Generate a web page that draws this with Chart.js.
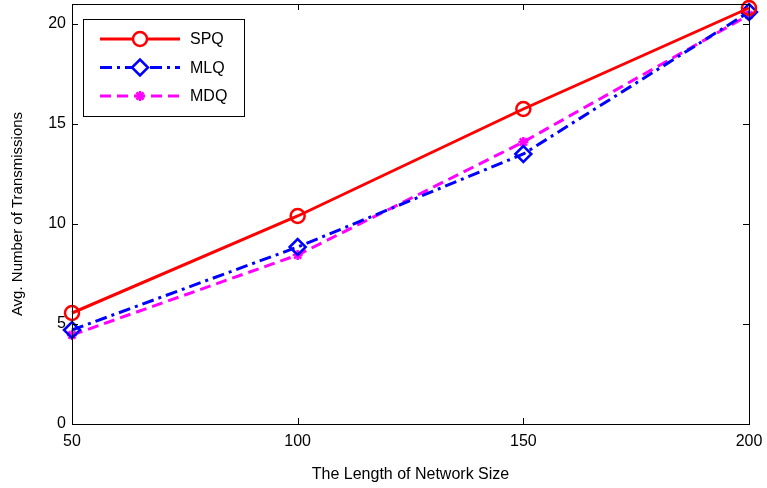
<!DOCTYPE html>
<html>
<head>
<meta charset="utf-8">
<script src="https://cdn.jsdelivr.net/npm/chart.js@4.4.0/dist/chart.umd.min.js"></script>
<style>
  html, body { margin: 0; padding: 0; background: #fff; }
  #wrap { width: 767px; height: 488px; position: relative; }
</style>
</head>
<body>
<div id="wrap"><canvas id="chart"></canvas></div>
<script>
const networkSizes = [50, 100, 150, 200];
const spqValues = [5.55, 10.4, 15.75, 20.8];
const mlqValues = [4.7, 8.85, 13.5, 20.6];
const mdqValues = [4.45, 8.45, 14.1, 20.45];
const yTicks = [0, 5, 10, 15, 20];
const xTicks = [50, 100, 150, 200];

const FONT = "Arial, 'Liberation Sans', sans-serif";

function toPoints(values) {
  return networkSizes.map((x, i) => ({ x, y: values[i] }));
}

// MATLAB-like box: border on all sides with ticks pointing inward
const boxPlugin = {
  id: "box",
  afterDraw(chart) {
    const { ctx, chartArea: a, scales } = chart;
    ctx.save();
    ctx.strokeStyle = "#000";
    ctx.lineWidth = 1;
    ctx.strokeRect(a.left + 0.5, a.top + 0.5, a.right - a.left, a.bottom - a.top);
    const len = 6;
    ctx.beginPath();
    yTicks.forEach((v) => {
      const y = Math.round(scales.y.getPixelForValue(v)) + 0.5;
      ctx.moveTo(a.left, y); ctx.lineTo(a.left + len, y);
      ctx.moveTo(a.right, y); ctx.lineTo(a.right - len, y);
    });
    xTicks.forEach((v) => {
      const x = Math.round(scales.x.getPixelForValue(v)) + 0.5;
      ctx.moveTo(x, a.bottom); ctx.lineTo(x, a.bottom - len);
      ctx.moveTo(x, a.top); ctx.lineTo(x, a.top + len);
    });
    ctx.stroke();
    ctx.restore();
  },
};

// legend box in the upper-left corner of the plot
const legendBoxPlugin = {
  id: "legendBox",
  afterDraw(chart) {
    const { ctx, chartArea: a } = chart;
    const left = a.left + 11, top = a.top + 15, w = 161, h = 97;
    ctx.save();
    ctx.fillStyle = "#fff";
    ctx.fillRect(left, top, w, h);
    ctx.strokeStyle = "#000";
    ctx.lineWidth = 1;
    ctx.strokeRect(left + 0.5, top + 0.5, w, h);
    chart.data.datasets.forEach((ds, i) => {
      const y = top + 20 + i * 28.5;
      ctx.strokeStyle = ds.borderColor;
      ctx.lineWidth = ds.borderWidth;
      ctx.setLineDash(ds.borderDash || []);
      ctx.beginPath();
      ctx.moveTo(left + 17, y);
      ctx.lineTo(left + 97, y);
      ctx.stroke();
      ctx.setLineDash([]);
      ctx.lineWidth = ds.pointBorderWidth;
      ctx.fillStyle = "#fff";
      Chart.helpers.drawPoint(ctx, {
        pointStyle: ds.pointStyle,
        radius: ds.pointRadius,
        borderWidth: ds.pointBorderWidth,
      }, left + 57, y);
      ctx.fillStyle = "#000";
      ctx.font = `16px ${FONT}`;
      ctx.textBaseline = "middle";
      ctx.fillText(ds.label, left + 107, y + 1);
    });
    ctx.restore();
  },
};

const datasets = [
  {
    label: "SPQ",
    data: toPoints(spqValues),
    borderColor: "#ff0000",
    borderWidth: 3,
    pointStyle: "circle",
    pointRadius: 7,
    pointBorderWidth: 2.5,
  },
  {
    label: "MLQ",
    data: toPoints(mlqValues),
    borderColor: "#0000ff",
    borderWidth: 3,
    borderDash: [12, 5, 3, 5],
    pointStyle: "rectRot",
    pointRadius: 8,
    pointBorderWidth: 2.5,
  },
  {
    label: "MDQ",
    data: toPoints(mdqValues),
    borderColor: "#ff00ff",
    borderWidth: 3,
    borderDash: [11, 6],
    pointStyle: "star",
    pointRadius: 5,
    pointBorderWidth: 2.5,
  },
].map((ds) => ({
  ...ds,
  backgroundColor: "rgba(0,0,0,0)",
  pointBorderColor: ds.borderColor,
  pointBackgroundColor: "rgba(0,0,0,0)",
  tension: 0,
  clip: false,
}));

new Chart(document.getElementById("chart"), {
  type: "line",
  data: { datasets },
  options: {
    responsive: true,
    maintainAspectRatio: false,
    animation: false,
    layout: { autoPadding: false, padding: { top: 4, right: 18, left: 0, bottom: 0 } },
    scales: {
      x: {
        type: "linear",
        min: 50,
        max: 200,
        afterBuildTicks: (scale) => {
          scale.ticks = xTicks.map((value) => ({ value }));
        },
        afterFit: (scale) => {
          scale.height = 64;
          scale.paddingLeft = 0;
          scale.paddingRight = 0;
        },
        grid: { display: false, drawTicks: false },
        border: { display: false },
        ticks: { color: "#000", padding: 8, font: { family: FONT, size: 16 } },
        title: {
          display: true,
          text: "The Length of Network Size",
          color: "#000",
          padding: { top: 10 },
          font: { family: FONT, size: 16 },
        },
      },
      y: {
        min: 0,
        max: 21,
        afterBuildTicks: (scale) => {
          scale.ticks = yTicks.map((value) => ({ value }));
        },
        afterFit: (scale) => {
          scale.width = 72;
          scale.paddingTop = 0;
          scale.paddingBottom = 0;
        },
        grid: { display: false, drawTicks: false },
        border: { display: false },
        ticks: { color: "#000", padding: 6, font: { family: FONT, size: 16 } },
        title: {
          display: true,
          text: "Avg. Number of Transmissions",
          color: "#000",
          padding: { top: 9, bottom: 0 },
          font: { family: FONT, size: 15 },
        },
      },
    },
    plugins: {
      legend: { display: false },
      tooltip: { enabled: false },
    },
  },
  plugins: [boxPlugin, legendBoxPlugin],
});
</script>
</body>
</html>
